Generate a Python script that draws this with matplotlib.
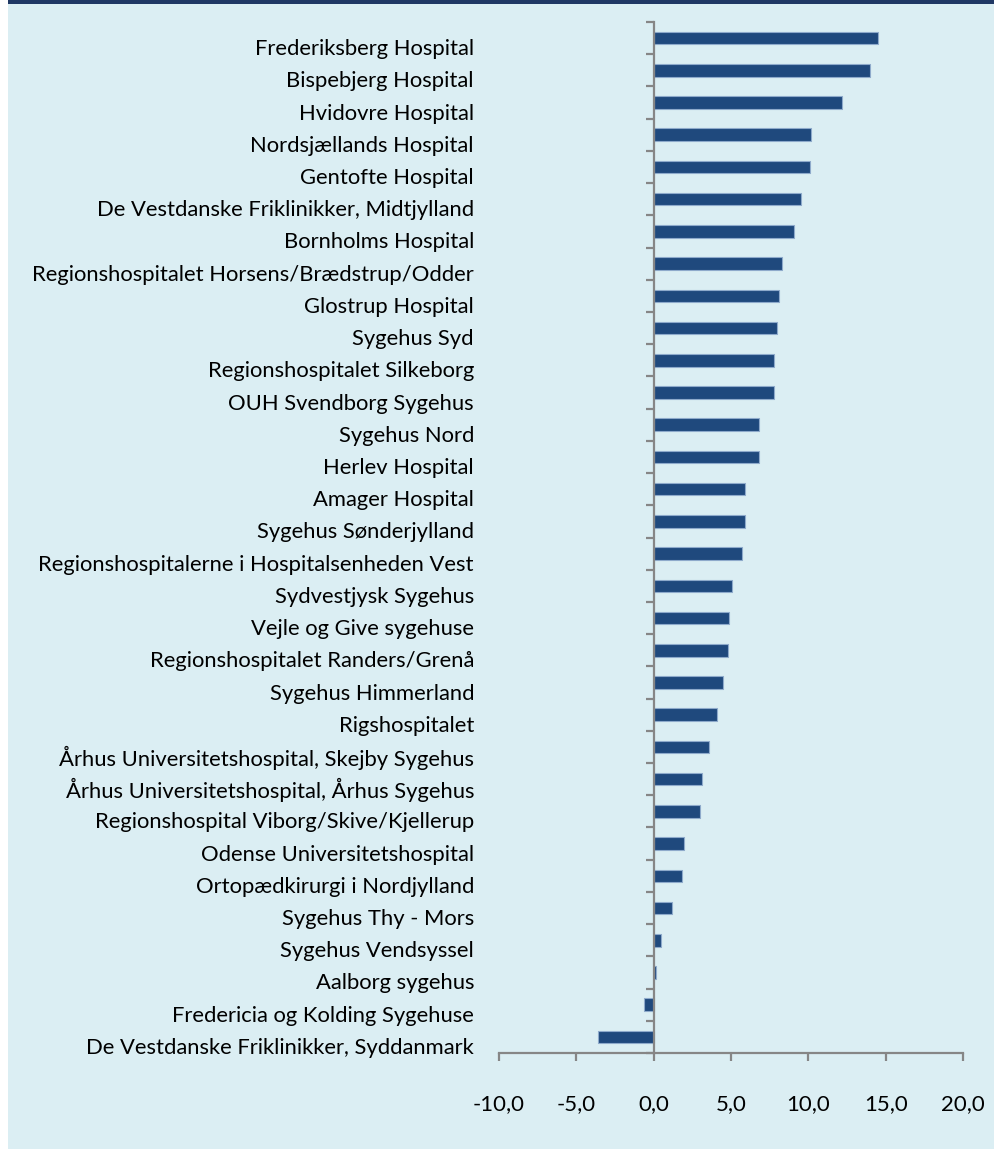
import matplotlib
matplotlib.use("Agg")
import matplotlib.pyplot as plt
from matplotlib.patches import Rectangle
import numpy as np

categories = [
    "Frederiksberg Hospital",
    "Bispebjerg Hospital",
    "Hvidovre Hospital",
    "Nordsjællands Hospital",
    "Gentofte Hospital",
    "De Vestdanske Friklinikker, Midtjylland",
    "Bornholms Hospital",
    "Regionshospitalet Horsens/Brædstrup/Odder",
    "Glostrup Hospital",
    "Sygehus Syd",
    "Regionshospitalet Silkeborg",
    "OUH Svendborg Sygehus",
    "Sygehus Nord",
    "Herlev Hospital",
    "Amager Hospital",
    "Sygehus Sønderjylland",
    "Regionshospitalerne i Hospitalsenheden Vest",
    "Sydvestjysk Sygehus",
    "Vejle og Give sygehuse",
    "Regionshospitalet Randers/Grenå",
    "Sygehus Himmerland",
    "Rigshospitalet",
    "Århus Universitetshospital, Skejby Sygehus",
    "Århus Universitetshospital, Århus Sygehus",
    "Regionshospital Viborg/Skive/Kjellerup",
    "Odense Universitetshospital",
    "Ortopædkirurgi i Nordjylland",
    "Sygehus Thy - Mors",
    "Sygehus Vendsyssel",
    "Aalborg sygehus",
    "Fredericia og Kolding Sygehuse",
    "De Vestdanske Friklinikker, Syddanmark",
]
values = [14.5, 14.0, 12.2, 10.2, 10.1, 9.5, 9.1, 8.3, 8.1, 7.95, 7.75, 7.75,
          6.8, 6.8, 5.9, 5.9, 5.7, 5.05, 4.9, 4.8, 4.5, 4.1, 3.6, 3.1, 3.0,
          1.95, 1.8, 1.2, 0.5, 0.12, -0.65, -3.6]
xticks = [-10, -5, 0, 5, 10, 15, 20]
xticklabels = ["-10,0", "-5,0", "0,0", "5,0", "10,0", "15,0", "20,0"]

W, H = 994, 1149
plt.rcParams['font.family'] = ['Lato', 'DejaVu Sans']
fig = plt.figure(figsize=(W / 100, H / 100), dpi=100, facecolor="white")

bg = "#DBEEF3"
fig.patches.append(Rectangle((8 / W, 0), 1 - 8 / W, 1 - 4 / H, transform=fig.transFigure,
                             facecolor=bg, edgecolor="none", zorder=-10))
fig.patches.append(Rectangle((8 / W, 1 - 4 / H), 1 - 8 / W, 4 / H, transform=fig.transFigure,
                             facecolor="#1F3864", edgecolor="none", zorder=-10))

left, right = 499 / W, 963 / W
top, bottom = 1 - 22 / H, 1 - 1053 / H
ax = fig.add_axes([left, bottom, right - left, top - bottom])
ax.set_facecolor("none")

n = len(categories)
y = np.arange(n)
ax.barh(y, values, height=0.39, color="#1F497D", edgecolor="#8EAACB", linewidth=0.8, zorder=3)

ax.set_xlim(-10, 20)
ax.set_ylim(n - 0.5, -0.5)

axis_color = "#868686"
for s in ["top", "right"]:
    ax.spines[s].set_visible(False)
ax.spines["left"].set_position(("data", 0))
ax.spines["left"].set_color(axis_color)
ax.spines["left"].set_linewidth(1.6)
ax.spines["left"].set_zorder(4)
ax.spines["bottom"].set_color(axis_color)
ax.spines["bottom"].set_linewidth(1.6)

ax.set_yticks(np.arange(n + 1) - 0.5)
ax.set_yticklabels([])
ax.tick_params(axis="y", direction="out", length=5.5, width=1.6, color=axis_color)

ax.set_xticks(xticks)
ax.set_xticklabels(xticklabels, fontsize=16, color="black")
ax.tick_params(axis="x", direction="out", length=5.5, width=1.6, color=axis_color, pad=24)

sec = ax.secondary_yaxis(0.0)
sec.set_yticks(y + 0.28)
sec.set_yticklabels(categories, fontsize=15.8, color="black")
sec.tick_params(axis="y", length=0, pad=18)
sec.spines["left"].set_visible(False)

fig.savefig("out.png", dpi=100, facecolor="white")
